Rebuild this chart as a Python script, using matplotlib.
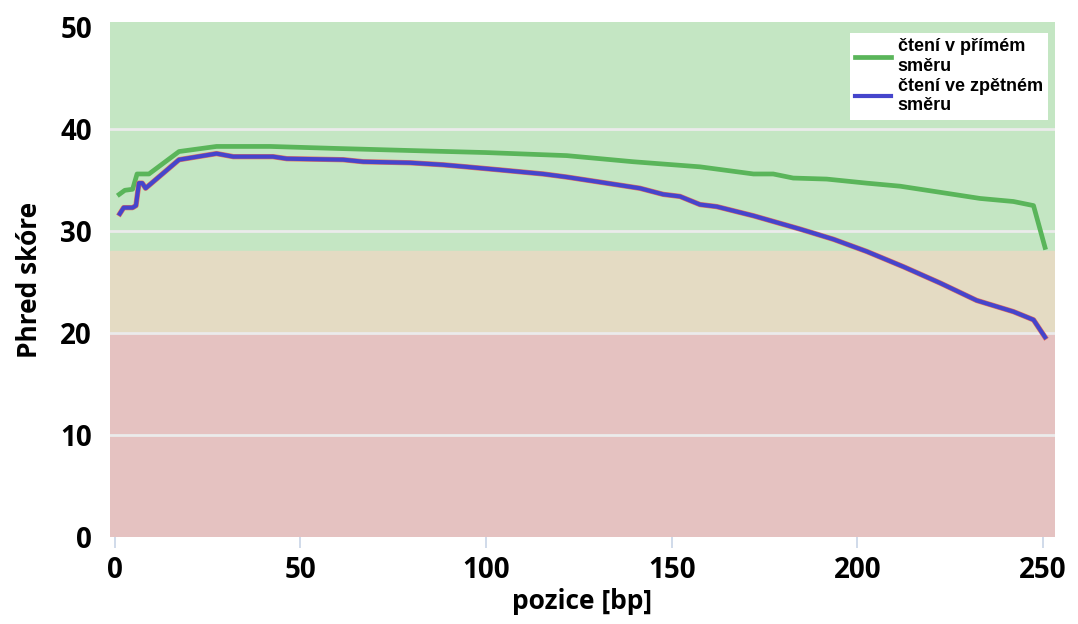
import matplotlib.pyplot as plt

# průměrné Phred skóre podle pozice v čtení
pos_fwd = [1.2, 2.7, 4.8, 6.0, 9.2, 17.3, 27.4, 41.8, 60, 79.5, 100, 121.7, 139.6,
           157.6, 172, 177.3, 182.7, 191.7, 202.5, 211.5, 222.3, 233, 242, 247.4, 250.5]
q_fwd = [33.6, 34.0, 34.1, 35.6, 35.6, 37.8, 38.3, 38.3, 38.1, 37.9, 37.7, 37.4, 36.8,
         36.3, 35.6, 35.6, 35.2, 35.1, 34.7, 34.4, 33.8, 33.2, 32.9, 32.5, 28.4]

pos_rev = [1.35, 2.4, 4.8, 5.7, 6.5, 7.4, 8.3, 17.3, 27.4, 31.9, 42.6, 46.3, 61.5,
           66.9, 79.5, 88.4, 94.7, 103.7, 115.4, 121.7, 132.5, 141.4, 147.7, 152.2,
           157.6, 162.1, 172, 184.5, 193.5, 202.5, 212.4, 222.3, 232.1, 242, 247.4, 250.5]
q_rev = [31.7, 32.3, 32.3, 32.5, 34.7, 34.7, 34.2, 37.0, 37.6, 37.3, 37.3, 37.1, 37.0,
         36.8, 36.7, 36.5, 36.3, 36.0, 35.6, 35.3, 34.7, 34.2, 33.6, 33.4,
         32.6, 32.4, 31.5, 30.2, 29.2, 28.0, 26.5, 24.9, 23.2, 22.1, 21.3, 19.6]

x_ticks = [0, 50, 100, 150, 200, 250]
y_ticks = [0, 10, 20, 30, 40, 50]

fig = plt.figure(figsize=(10.78, 6.24), dpi=100)
ax = fig.add_axes([0.102, 0.1394, 0.8767, 0.8253])

# pásma kvality
ax.axhspan(28, 50.5, color='#c4e6c3', zorder=0)
ax.axhspan(20, 28, color='#e4dbc3', zorder=0)
ax.axhspan(0, 20, color='#e5c2c1', zorder=0)
for y in [10, 20, 30, 40]:
    ax.axhline(y, color='#ebebeb', lw=2, zorder=1)

ax.plot(pos_fwd, q_fwd, color='#5ab55a', lw=3.4, zorder=3,
        label='čtení v přímém\nsměru')
ax.plot(pos_rev, q_rev, color='#e07060', lw=3.8, zorder=3)
ax.plot(pos_rev, q_rev, color='#4545cc', lw=3.0, zorder=4,
        label='čtení ve zpětném\nsměru')

ax.set_xlim(-1.3, 253.2)
ax.set_ylim(0, 50.5)
ax.set_xticks(x_ticks)
ax.set_yticks(y_ticks)
for s in ax.spines.values():
    s.set_visible(False)
ax.tick_params(axis='x', length=8, width=1.2, color='#c8d4e6', pad=6)
ax.tick_params(axis='y', length=0, pad=13)
for lab in ax.get_xticklabels() + ax.get_yticklabels():
    lab.set_fontfamily('Open Sans')
    lab.set_fontweight('bold')
    lab.set_fontsize(20)

ax.set_xlabel('pozice [bp]', fontfamily='Open Sans', fontweight='bold',
              fontsize=19, labelpad=2)
ax.set_ylabel('Phred skóre', fontfamily='Open Sans', fontweight='bold',
              fontsize=19, labelpad=12)

leg = ax.legend(loc='upper right', bbox_to_anchor=(0.9926, 0.9786),
                prop={'family': 'Liberation Sans', 'weight': 'bold', 'size': 13},
                frameon=True, fancybox=False, framealpha=1, edgecolor='white',
                handlelength=2.0, handletextpad=0.35, borderpad=0.3,
                labelspacing=0.15, borderaxespad=0)
leg.get_frame().set_linewidth(0)

fig.savefig('out.png', dpi=100)
plt.close(fig)
